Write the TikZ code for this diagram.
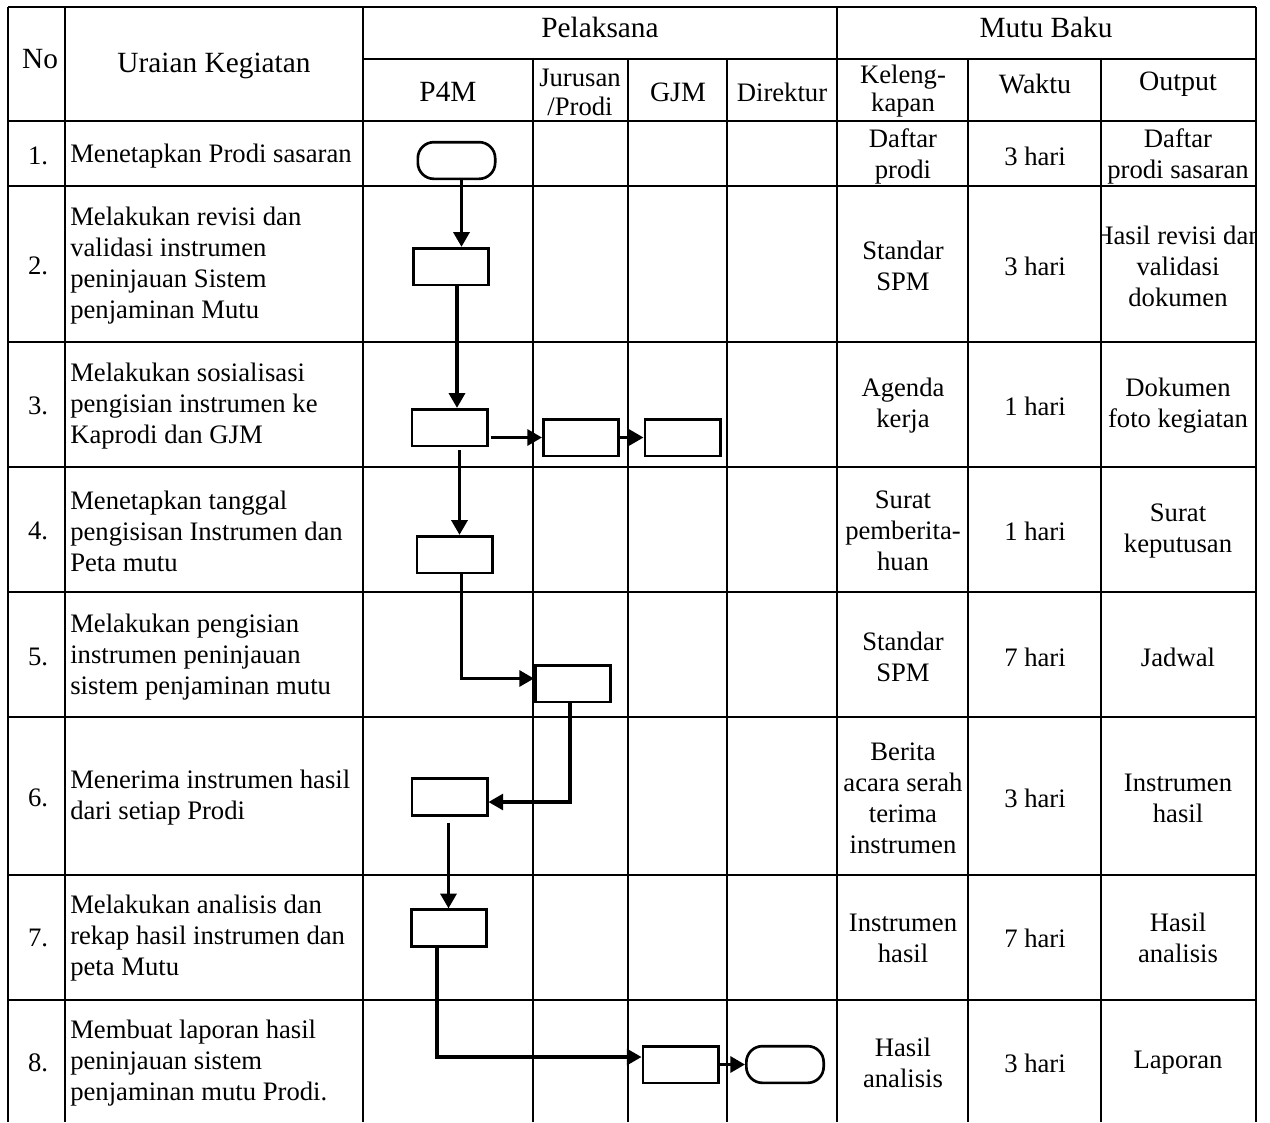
\documentclass[tikz,border=0pt]{standalone}
\usepackage{fontspec}
\setmainfont{Liberation Serif}
\usetikzlibrary{calc,arrows.meta}
\begin{document}
\begin{tikzpicture}[x=0.75pt,y=-0.75pt,
  grid/.style={line width=1pt},
  txt/.style={font=\fontsize{20}{23.25}\selectfont,inner sep=0pt,align=center},
  htxt/.style={txt,font=\fontsize{22}{24}\selectfont},
  ltxt/.style={txt,align=left,anchor=west},
  proc/.style={draw,line width=2pt,minimum width=56.5pt,minimum height=27.5pt,inner sep=0pt},
  term/.style={proc,rounded corners=12pt,minimum width=58pt},
  flow/.style={line width=2.3pt},
  arr/.style={flow,-{Triangle[length=11pt,width=12pt]}}]
\path[use as bounding box,fill=white] (0,0) rectangle (1270,1122);
% table grid
\foreach \x in {8,65,363,837,1256} \draw[grid] (\x,7) -- (\x,1122);
\foreach \x in {533,628,727,968,1101} \draw[grid] (\x,59) -- (\x,1122);
\draw[grid] (8,7) -- (1256,7);
\draw[grid] (363,59) -- (1256,59);
\foreach \y in {121,186,342,467,592,717,875,1000} \draw[grid] (8,\y) -- (1256,\y);
% header
\node[htxt] (hno) at (40,59) {No};
\node[htxt] (hur) at (214,66) {Uraian Kegiatan};
\node[htxt] (hpl) at (600,27) {Pelaksana};
\node[htxt] (hmb) at (1046,27) {Mutu Baku};
\node[htxt] (hp4) at (448,92) {P4M};
\node[txt,font=\fontsize{20}{21.75}\selectfont] (hju) at (580,92) {Jurusan\\/Prodi};
\node[txt,font=\fontsize{21}{23}\selectfont] (hgj) at (678,92) {GJM};
\node[txt] (hdi) at (782,92) {Direktur};
\node[txt,font=\fontsize{20}{20.5}\selectfont] (hke) at (903,91) {Keleng-\\kapan};
\node[txt,font=\fontsize{21}{23}\selectfont] (hwa) at (1035,84) {Waktu};
\node[txt,font=\fontsize{21}{23}\selectfont] (hou) at (1178,84) {Output};
% numbers
\node[txt] (n1) at (38,156) {1.};
\node[txt] (n2) at (38,266) {2.};
\node[txt] (n3) at (38,406) {3.};
\node[txt] (n4) at (38,531) {4.};
\node[txt] (n5) at (38,657) {5.};
\node[txt] (n6) at (38,798) {6.};
\node[txt] (n7) at (38,938) {7.};
\node[txt] (n8) at (38,1063) {8.};
% activities
\node[ltxt] (u1) at (70,156) {Menetapkan Prodi sasaran};
\node[ltxt] (u2) at (70,266) {Melakukan revisi dan\\validasi instrumen\\peninjauan Sistem\\penjaminan Mutu};
\node[ltxt] (u3) at (70,406) {Melakukan sosialisasi\\pengisian instrumen ke\\Kaprodi dan GJM};
\node[ltxt] (u4) at (70,531) {Menetapkan tanggal\\pengisisan Instrumen dan\\Peta mutu};
\node[ltxt] (u5) at (70,657) {Melakukan pengisian\\instrumen peninjauan\\sistem penjaminan mutu};
\node[ltxt] (u6) at (70,798) {Menerima instrumen hasil\\dari setiap Prodi};
\node[ltxt] (u7) at (70,938) {Melakukan analisis dan\\rekap hasil instrumen dan\\peta Mutu};
\node[ltxt] (u8) at (70,1063) {Membuat laporan hasil\\peninjauan sistem\\penjaminan mutu Prodi.};
% kelengkapan
\node[txt] (k1) at (903,156) {Daftar\\prodi};
\node[txt] (k2) at (903,266) {Standar\\SPM};
\node[txt] (k3) at (903,406) {Agenda\\kerja};
\node[txt] (k4) at (903,531) {Surat\\pemberita-\\huan};
\node[txt] (k5) at (903,657) {Standar\\SPM};
\node[txt] (k6) at (903,798) {Berita\\acara serah\\terima\\instrumen};
\node[txt] (k7) at (903,938) {Instrumen\\hasil};
\node[txt] (k8) at (903,1063) {Hasil\\analisis};
% waktu
\node[txt] (w1) at (1035,156) {3 hari};
\node[txt] (w2) at (1035,266) {3 hari};
\node[txt] (w3) at (1035,406) {1 hari};
\node[txt] (w4) at (1035,531) {1 hari};
\node[txt] (w5) at (1035,657) {7 hari};
\node[txt] (w6) at (1035,798) {3 hari};
\node[txt] (w7) at (1035,938) {7 hari};
\node[txt] (w8) at (1035,1063) {3 hari};
% output
\node[txt] (o1) at (1178,156) {Daftar\\prodi sasaran};
\begin{scope}
  \clip (1102,187) rectangle (1255,341);
  \node[txt] (o2) at (1178,266) {Hasil revisi dan\\validasi\\dokumen};
\end{scope}
\node[txt] (o3) at (1178,406) {Dokumen\\foto kegiatan};
\node[txt] (o4) at (1178,531) {Surat\\keputusan};
\node[txt] (o5) at (1178,657) {Jadwal};
\node[txt] (o6) at (1178,798) {Instrumen\\hasil};
\node[txt] (o7) at (1178,938) {Hasil\\analisis};
\node[txt] (o8) at (1178,1063) {Laporan};
% flow shapes
\node[term] (t1) at (456.5,160.5) {};
\node[proc] (b2) at (451,266.5) {};
\node[proc] (b3) at (449.5,427.5) {};
\node[proc] (j3) at (581,437.5) {};
\node[proc] (g3) at (682.5,437.5) {};
\node[proc] (b4) at (454.5,554.5) {};
\node[proc] (j5) at (573,683.5) {};
\node[proc] (b6) at (449.5,797) {};
\node[proc] (b7) at (449,928) {};
\node[proc] (g8) at (680.5,1064.5) {};
\node[term] (t8) at (785,1064.5) {};
% connector anchor points
\coordinate (c1) at ($(t1.south)+(5,0)$);
\coordinate (c2) at ($(b2.south)+(6,0)$);
\coordinate (c3) at ($(b3.south)+(10,3)$);
\coordinate (c3e) at ($(b3.east |- j3.west)+(2,0)$);
\coordinate (c4) at ($(b4.south)+(7,0)$);
\coordinate (e5) at ($(j5.west)+(0,-5)$);
\coordinate (c5) at ($(j5.south)+(-3,0)$);
\coordinate (e6) at ($(b6.east)+(0,5)$);
\coordinate (c6) at ($(b6.south)+(-1,6)$);
\coordinate (c7) at ($(b7.south)+(-12,0)$);
\coordinate (e8) at ($(g8.west)+(0,-7.5)$);
% connectors
\draw[arr] (c1) -- (c1 |- b2.north);
\draw[arr] (c2) -- (c2 |- b3.north);
\draw[arr] (c3e) -- (j3.west);
\draw[arr] (j3.east) -- (g3.west);
\draw[arr] (c3) -- (c3 |- b4.north);
\draw[arr] (c4) |- (e5);
\draw[arr] (c5) |- (e6);
\draw[arr] (c6) -- (c6 |- b7.north);
\draw[arr] (c7) |- (e8);
\draw[arr] (g8.east) -- (t8.west);
\end{tikzpicture}
\end{document}
